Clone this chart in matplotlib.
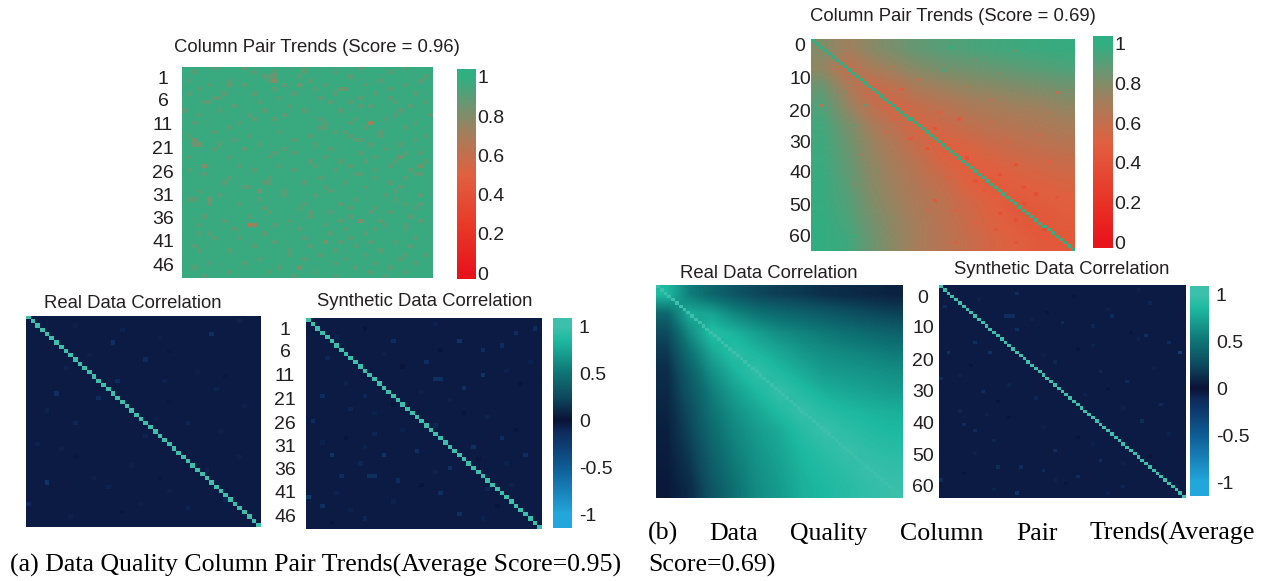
import numpy as np
import matplotlib
matplotlib.use("Agg")
import matplotlib.pyplot as plt
from matplotlib.colors import LinearSegmentedColormap, Normalize
from matplotlib.cm import ScalarMappable

W, H = 1270, 581
SANS = "Liberation Sans"
SERIF = "Liberation Serif"
INK = "#231F20"

# ---------- data ----------
N_A, N_B = 50, 65
labels_a = ["1", "6", "11", "21", "26", "31", "36", "41", "46"]
rows_a = [2.4, 7.8, 13.3, 19.0, 24.7, 30.2, 35.6, 41.2, 46.9]
labels_b = ["0", "10", "20", "30", "40", "50", "60"]
rows_b_top = [1.8, 11.7, 21.8, 31.3, 40.5, 50.6, 60.4]
rows_b_mid = [3.4, 12.8, 22.6, 32.3, 42.1, 51.6, 61.3]

trend_ticks = [0, 0.2, 0.4, 0.6, 0.8, 1]
trend_tick_labels = ["0", "0.2", "0.4", "0.6", "0.8", "1"]
corr_ticks = [-1, -0.5, 0, 0.5, 1]
corr_tick_labels = ["-1", "-0.5", "0", "0.5", "1"]

# colour anchors (value, colour)
trend_anchors = [(0, "#E8141C"), (0.25, "#E83A28"), (0.5, "#E0603F"), (0.7, "#A87C5A"),
                 (0.85, "#6F9470"), (1, "#2FAF82")]
corr_anchors = [(-1, "#22A7DC"), (-0.5, "#0E5C94"), (-0.12, "#0E2A5A"), (0, "#0A1236"),
                (0.25, "#0D4A5E"), (0.5, "#0E7474"), (0.85, "#1DB9A0"), (1, "#3CC0AC")]

trend_a_base = 0.975
# (row, col, value) cells of panel (a) trends that stand out
trend_a_cells = [
    (13, 37, .72), (37, 13, .68), (37, 14, .76), (3, 18, .80), (2, 18, .86), (4, 23, .82), (4, 9, .84),
    (5, 32, .84), (5, 31, .88), (17, 2, .84), (18, 3, .82), (18, 2, .86), (23, 4, .80), (31, 5, .82),
    (32, 5, .86), (29, 15, .82), (36, 35, .82), (47, 23, .82), (41, 28, .82), (23, 47, .84), (21, 43, .84),
]
# columns with a faint tint, one list per row
trend_a_faint = [
    [6, 12, 24, 35, 44], [2, 14, 18, 24, 30, 41], [16, 17, 23, 33, 48], [1, 9, 17, 25, 39, 47], [5, 12, 20, 28, 36, 44],
    [3, 18, 26, 41], [1, 8, 14, 22, 30, 38, 46], [6, 7, 19, 27, 35, 41], [4, 5, 15, 29, 33, 42, 48], [10, 21, 35, 37, 45],
    [0, 7, 16, 24, 31, 43], [3, 13, 20, 42, 49], [14, 18, 27, 34, 40], [2, 11, 28, 33, 46], [9, 27, 28, 36, 44],
    [6, 19, 30, 32, 39], [1, 13, 25, 33, 39, 48], [10, 22, 34, 35, 46], [7, 15, 26, 37, 43], [6, 12, 20, 29, 40],
    [18, 22, 35, 44, 47], [1, 9, 17, 28, 38], [25, 31, 36, 42, 48], [11, 19, 26, 33, 41], [1, 14, 22, 30, 38, 45],
    [4, 34, 35, 46, 47], [9, 17, 27, 38, 44], [8, 16, 17, 24, 32, 41], [12, 13, 28, 36, 43], [3, 20, 29, 42],
    [7, 20, 26, 40, 47], [1, 2, 15, 34, 42], [11, 24, 31, 44, 47], [16, 23, 33, 38, 46], [17, 25, 29, 37, 41],
    [4, 13, 25, 33, 45], [8, 21, 31, 39, 47], [3, 18, 28, 40, 44], [10, 23, 32, 38, 44], [3, 5, 16, 29, 36],
    [6, 11, 24, 33, 46], [18, 31, 37, 42], [2, 14, 25, 34, 45], [3, 9, 21, 30, 39], [21, 27, 36, 44, 48],
    [15, 24, 32, 43], [5, 12, 30, 38, 46], [2, 19, 34, 41], [9, 17, 26, 37, 44], [4, 22, 30, 40],
]

# coarse reading of panel (b) trends, top-left to bottom-right
trend_b_grid = [
    [.80, .72, .78, .83, .88, .91, .93, .95, .96, .97, .98],
    [.76, .62, .70, .75, .80, .83, .85, .87, .89, .91, .93],
    [.86, .70, .57, .63, .70, .73, .76, .78, .80, .82, .84],
    [.92, .76, .63, .54, .60, .64, .68, .70, .72, .73, .76],
    [.95, .83, .71, .62, .53, .57, .61, .64, .66, .68, .70],
    [.96, .86, .75, .67, .58, .50, .53, .57, .60, .62, .64],
    [.97, .88, .77, .70, .63, .54, .48, .51, .54, .56, .58],
    [.98, .90, .79, .72, .66, .60, .51, .46, .49, .51, .53],
    [.98, .92, .81, .74, .68, .63, .56, .50, .45, .47, .49],
    [.99, .94, .84, .76, .70, .64, .58, .52, .47, .44, .47],
    [.99, .96, .86, .77, .70, .65, .60, .54, .50, .46, .45],
]
trend_b_cells = [
    (38, 50, .40), (41, 46, .40), (47, 55, .40), (49, 30, .46), (53, 46, .40), (20, 2, .70), (20, 13, .82),
    (9, 32, .92), (12, 54, .84), (3, 50, .86), (6, 40, .82), (15, 22, .48), (27, 30, .44), (24, 36, .46),
    (22, 31, .48), (30, 24, .46), (33, 28, .44), (36, 38, .42), (43, 40, .42), (45, 52, .40), (50, 52, .40),
    (55, 50, .40), (58, 57, .38), (60, 60, .38), (58, 45, .44), (54, 20, .78), (50, 8, .90), (48, 22, .70),
    (40, 16, .78), (26, 10, .86), (34, 6, .92), (16, 60, .62), (22, 58, .68), (29, 56, .58), (10, 46, .80),
    (44, 28, .60), (52, 35, .54), (62, 35, .54), (57, 16, .82), (60, 10, .98), (5, 30, .86), (8, 20, .70),
    (14, 38, .72), (18, 44, .64), (12, 26, .62), (25, 44, .58), (31, 48, .56), (37, 58, .50), (42, 33, .52),
    (46, 42, .46), (52, 28, .60), (56, 40, .50), (60, 25, .72), (35, 12, .74), (28, 18, .60), (44, 10, .82),
    (62, 50, .44), (48, 60, .44), (20, 50, .72), (7, 55, .90), (2, 34, .98), (16, 8, .78), (24, 20, .54),
]

real_a_base = -0.05
real_a_cells = [
    (4, 39, -.16), (6, 18, -.16), (10, 25, -.13), (18, 6, -.16), (19, 15, -.13), (15, 19, -.13), (39, 4, -.2),
    (44, 0, -.13), (25, 10, -.10), (25, 34, -.10), (17, 40, -.09), (15, 29, -.09), (45, 34, -.09), (40, 17, -.09),
    (43, 42, -.10), (28, 25, -.09), (1, 45, -.09), (3, 20, -.09), (12, 8, -.09), (22, 4, -.09), (30, 2, -.09),
    (36, 38, -.09), (8, 30, -.03), (20, 30, -.03), (33, 10, -.03), (46, 20, -.03), (14, 42, -.03), (38, 28, -.03),
    (9, 13, -.07), (24, 27, -.07), (31, 7, -.07), (35, 22, -.07), (41, 30, -.07), (47, 9, -.07), (13, 36, -.07),
    (21, 46, -.07), (27, 41, -.07), (5, 28, -.07), (2, 10, -.07), (33, 45, -.07), (38, 14, -.07), (44, 24, -.07),
]

synth_a_base = -0.05
synth_a_cells = [
    (5, 32, -.2), (13, 37, -.2), (37, 13, -.17), (37, 14, -.17), (32, 16, -.2), (32, 5, -.2), (42, 0, -.25),
    (41, 28, -.17), (14, 27, -.17), (14, 28, -.17), (16, 33, -.17), (30, 35, -.17), (28, 41, -.14), (31, 23, -.17),
    (44, 3, -.17), (46, 32, -.17), (10, 25, -.14), (5, 18, -.14), (18, 3, -.14), (24, 1, -.14), (35, 30, -.17),
    (32, 46, -.14), (3, 44, -.14), (2, 48, -.14), (7, 37, -.14), (6, 41, -.14), (37, 7, -.14), (38, 19, -.14),
    (27, 14, -.11), (18, 12, -.10), (9, 4, -.10), (21, 9, -.10), (25, 27, -.10), (34, 11, -.10), (40, 38, -.10),
    (47, 12, -.10), (11, 20, -.02), (22, 33, -.02), (28, 8, -.02), (39, 24, -.02), (7, 28, -.02), (44, 40, -.02),
    (15, 45, -.02), (33, 36, -.02), (20, 18, -.02), (48, 5, -.02), (2, 12, -.02), (26, 44, -.02),
    (4, 6, -.08), (8, 16, -.08), (12, 42, -.08), (17, 24, -.08), (23, 38, -.08), (26, 20, -.08), (29, 3, -.08),
    (36, 27, -.08), (39, 43, -.08), (43, 18, -.08), (45, 9, -.08), (47, 37, -.08), (19, 30, -.08), (1, 27, -.08),
    (10, 47, -.08), (34, 42, -.08), (15, 8, -.08), (41, 6, -.08), (22, 14, -.08), (30, 12, -.08),
]

synth_b_base = -0.05
synth_b_cells = [
    (20, 63, -.28), (20, 13, -.18), (20, 2, -.2), (17, 9, -.17), (9, 17, -.15), (9, 18, -.16), (9, 19, -.15),
    (13, 20, -.17), (15, 54, -.17), (9, 45, -.14), (41, 53, .14), (36, 58, -.13), (55, 15, .14), (63, 20, -.2),
    (53, 42, -.15), (58, 36, -.15), (50, 30, -.15), (32, 11, -.15), (28, 0, -.13), (59, 0, -.15), (42, 6, -.13),
    (44, 9, -.13), (29, 49, -.13), (11, 32, -.13), (17, 60, -.13), (2, 20, -.15), (56, 27, -.13), (55, 21, -.13),
    (6, 1, -.13), (23, 30, -.10), (26, 42, -.10), (34, 25, -.10), (47, 14, -.10), (61, 48, -.10), (38, 5, -.10),
    (12, 40, -.10), (5, 55, -.10), (8, 28, -.02), (19, 36, -.02), (31, 44, -.02), (40, 18, -.02), (52, 55, -.02),
    (60, 33, -.02), (24, 8, -.02), (14, 50, -.02), (46, 36, -.02), (3, 35, -.02), (57, 6, -.02), (35, 15, -.02),
    (4, 10, -.08), (7, 44, -.08), (10, 24, -.08), (16, 52, -.08), (21, 27, -.08), (25, 56, -.08), (30, 18, -.08),
    (33, 38, -.08), (37, 48, -.08), (39, 12, -.08), (43, 27, -.08), (45, 60, -.08), (48, 40, -.08), (51, 9, -.08),
    (54, 48, -.08), (59, 30, -.08), (62, 14, -.08), (63, 44, -.08), (1, 52, -.08), (18, 40, -.08), (27, 5, -.08),
]

# coarse reading of panel (b) real correlation
real_b_grid = [
    [.85, .55, .42, .32, .24, .20, .17, .13, .11, .09, .07],
    [.42, .78, .74, .60, .50, .44, .40, .35, .30, .26, .22],
    [.25, .62, .90, .82, .72, .63, .58, .53, .48, .44, .40],
    [.17, .48, .76, .92, .84, .76, .68, .63, .60, .57, .53],
    [.12, .38, .64, .82, .95, .86, .78, .70, .68, .66, .63],
    [.10, .32, .55, .72, .85, .96, .88, .80, .76, .73, .70],
    [.08, .27, .50, .65, .76, .88, .97, .90, .85, .82, .80],
    [.06, .23, .45, .60, .70, .78, .90, .98, .92, .88, .85],
    [.05, .19, .40, .56, .67, .75, .85, .92, .98, .93, .90],
    [.04, .15, .36, .52, .64, .72, .82, .88, .93, .98, .95],
    [.03, .11, .32, .48, .62, .70, .80, .85, .90, .95, .98],
]
diag_value = 1.0

# ---------- scales ----------
TREND_RANGE = (-0.03, 1.04)
CORR_RANGE = (-1.145, 1.085)


def make_cmap(name, anchors, rng):
    span = rng[1] - rng[0]
    stops = [(0.0, anchors[0][1])]
    stops += [((v - rng[0]) / span, c) for v, c in anchors]
    stops += [(1.0, anchors[-1][1])]
    return LinearSegmentedColormap.from_list(name, stops, N=512)


trend_cmap = make_cmap("trend", trend_anchors, TREND_RANGE)
corr_cmap = make_cmap("corr", corr_anchors, CORR_RANGE)
trend_norm = Normalize(*TREND_RANGE)
corr_norm = Normalize(*CORR_RANGE)

fig = plt.figure(figsize=(W / 100, H / 100), dpi=100, facecolor="white")


def box(x0, y0, x1, y1):
    return fig.add_axes([x0 / W, 1 - y1 / H, (x1 - x0) / W, (y1 - y0) / H])


def label(x, y, s, size=13.3, family=SANS, color=INK, ha="center"):
    fig.text(x / W, 1 - y / H, s, fontsize=size, family=family, color=color, ha=ha, va="baseline")


def cells_layer(n, cells, diagonal, faint=None, faint_value=None):
    grid = np.full((n, n), np.nan)
    if faint is not None:
        for r, cols in enumerate(faint):
            grid[r, cols] = faint_value
    for r, c, v in cells:
        grid[r, c] = v
    if diagonal:
        np.fill_diagonal(grid, diag_value)
    return np.ma.masked_invalid(grid)


def heatmap(rect, n, cmap, norm, base=None, coarse=None, cells=(), diagonal=True,
            ticks=None, tick_labels=None, label_dist=0, faint=None, faint_value=None):
    ax = box(*rect)
    if coarse is not None:
        ax.imshow(coarse, cmap=cmap, norm=norm, aspect="auto", interpolation="bilinear",
                  extent=(0, n, n, 0))
    else:
        ax.imshow(np.full((n, n), base), cmap=cmap, norm=norm, aspect="auto",
                  interpolation="nearest", extent=(0, n, n, 0))
    ax.imshow(cells_layer(n, cells, diagonal, faint, faint_value), cmap=cmap, norm=norm, aspect="auto",
              interpolation="nearest", extent=(0, n, n, 0))
    ax.set_xlim(0, n)
    ax.set_ylim(n, 0)
    ax.set_xticks([])
    for s in ax.spines.values():
        s.set_visible(False)
    if ticks is None:
        ax.set_yticks([])
    else:
        ax.set_yticks(ticks)
        ax.set_yticklabels(tick_labels, fontsize=14, family=SANS, color=INK)
        ax.tick_params(axis="y", length=0, pad=label_dist * 0.72)
        for t in ax.get_yticklabels():
            t.set_ha("center")
    return ax


def colorbar(rect, cmap, norm, ticks, tick_labels, pad):
    cax = box(*rect)
    cb = fig.colorbar(ScalarMappable(norm=norm, cmap=cmap), cax=cax)
    cb.outline.set_visible(False)
    cb.set_ticks(ticks)
    cb.set_ticklabels(tick_labels)
    cax.tick_params(axis="y", length=0, pad=pad, labelsize=14, labelcolor=INK)
    for t in cax.get_yticklabels():
        t.set_family(SANS)


# ---------- panel (a) ----------
label(317, 52, "Column Pair Trends (Score = 0.96)")
heatmap((182, 67, 433, 278), N_A, trend_cmap, trend_norm, base=trend_a_base, cells=trend_a_cells,
        diagonal=False, ticks=rows_a, tick_labels=labels_a, label_dist=19,
        faint=trend_a_faint, faint_value=0.9)
colorbar((457, 69, 476, 279), trend_cmap, trend_norm, trend_ticks, trend_tick_labels, 1.2)

label(133, 308, "Real Data Correlation")
heatmap((26, 316, 261, 527), N_A, corr_cmap, corr_norm, base=real_a_base, cells=real_a_cells)
label(425, 306, "Synthetic Data Correlation")
heatmap((306, 318, 542, 529), N_A, corr_cmap, corr_norm, base=synth_a_base, cells=synth_a_cells,
        ticks=rows_a, tick_labels=labels_a, label_dist=21)
colorbar((553, 318, 572, 528), corr_cmap, corr_norm, corr_ticks, corr_tick_labels, 5)

# ---------- panel (b) ----------
label(953, 21, "Column Pair Trends (Score = 0.69)")
heatmap((811, 39, 1075, 251), N_B, trend_cmap, trend_norm, coarse=np.array(trend_b_grid),
        cells=trend_b_cells, ticks=rows_b_top, tick_labels=labels_b, label_dist=11)
colorbar((1093, 36, 1113, 248), trend_cmap, trend_norm, trend_ticks, trend_tick_labels, 1.2)

label(769, 278, "Real Data Correlation")
heatmap((656, 285, 903, 498), N_B, corr_cmap, corr_norm, coarse=np.array(real_b_grid))
label(1062, 274, "Synthetic Data Correlation")
heatmap((939, 285, 1186, 498), N_B, corr_cmap, corr_norm, base=synth_b_base, cells=synth_b_cells,
        ticks=rows_b_mid, tick_labels=labels_b, label_dist=16)
colorbar((1190, 286, 1209, 496), corr_cmap, corr_norm, corr_ticks, corr_tick_labels, 5)

# ---------- captions ----------
label(10, 572, "(a) Data Quality Column Pair Trends(Average Score=0.95)", 18.6, SERIF, "black", "left")
for x, word in zip([648, 709, 790, 900, 1016, 1090],
                   ["(b)", "Data", "Quality", "Column", "Pair", "Trends(Average"]):
    label(x, 540, word, 18.6, SERIF, "black", "left")
label(648, 572, "Score=0.69)", 18.6, SERIF, "black", "left")

fig.savefig("out.png", dpi=100, facecolor="white")
